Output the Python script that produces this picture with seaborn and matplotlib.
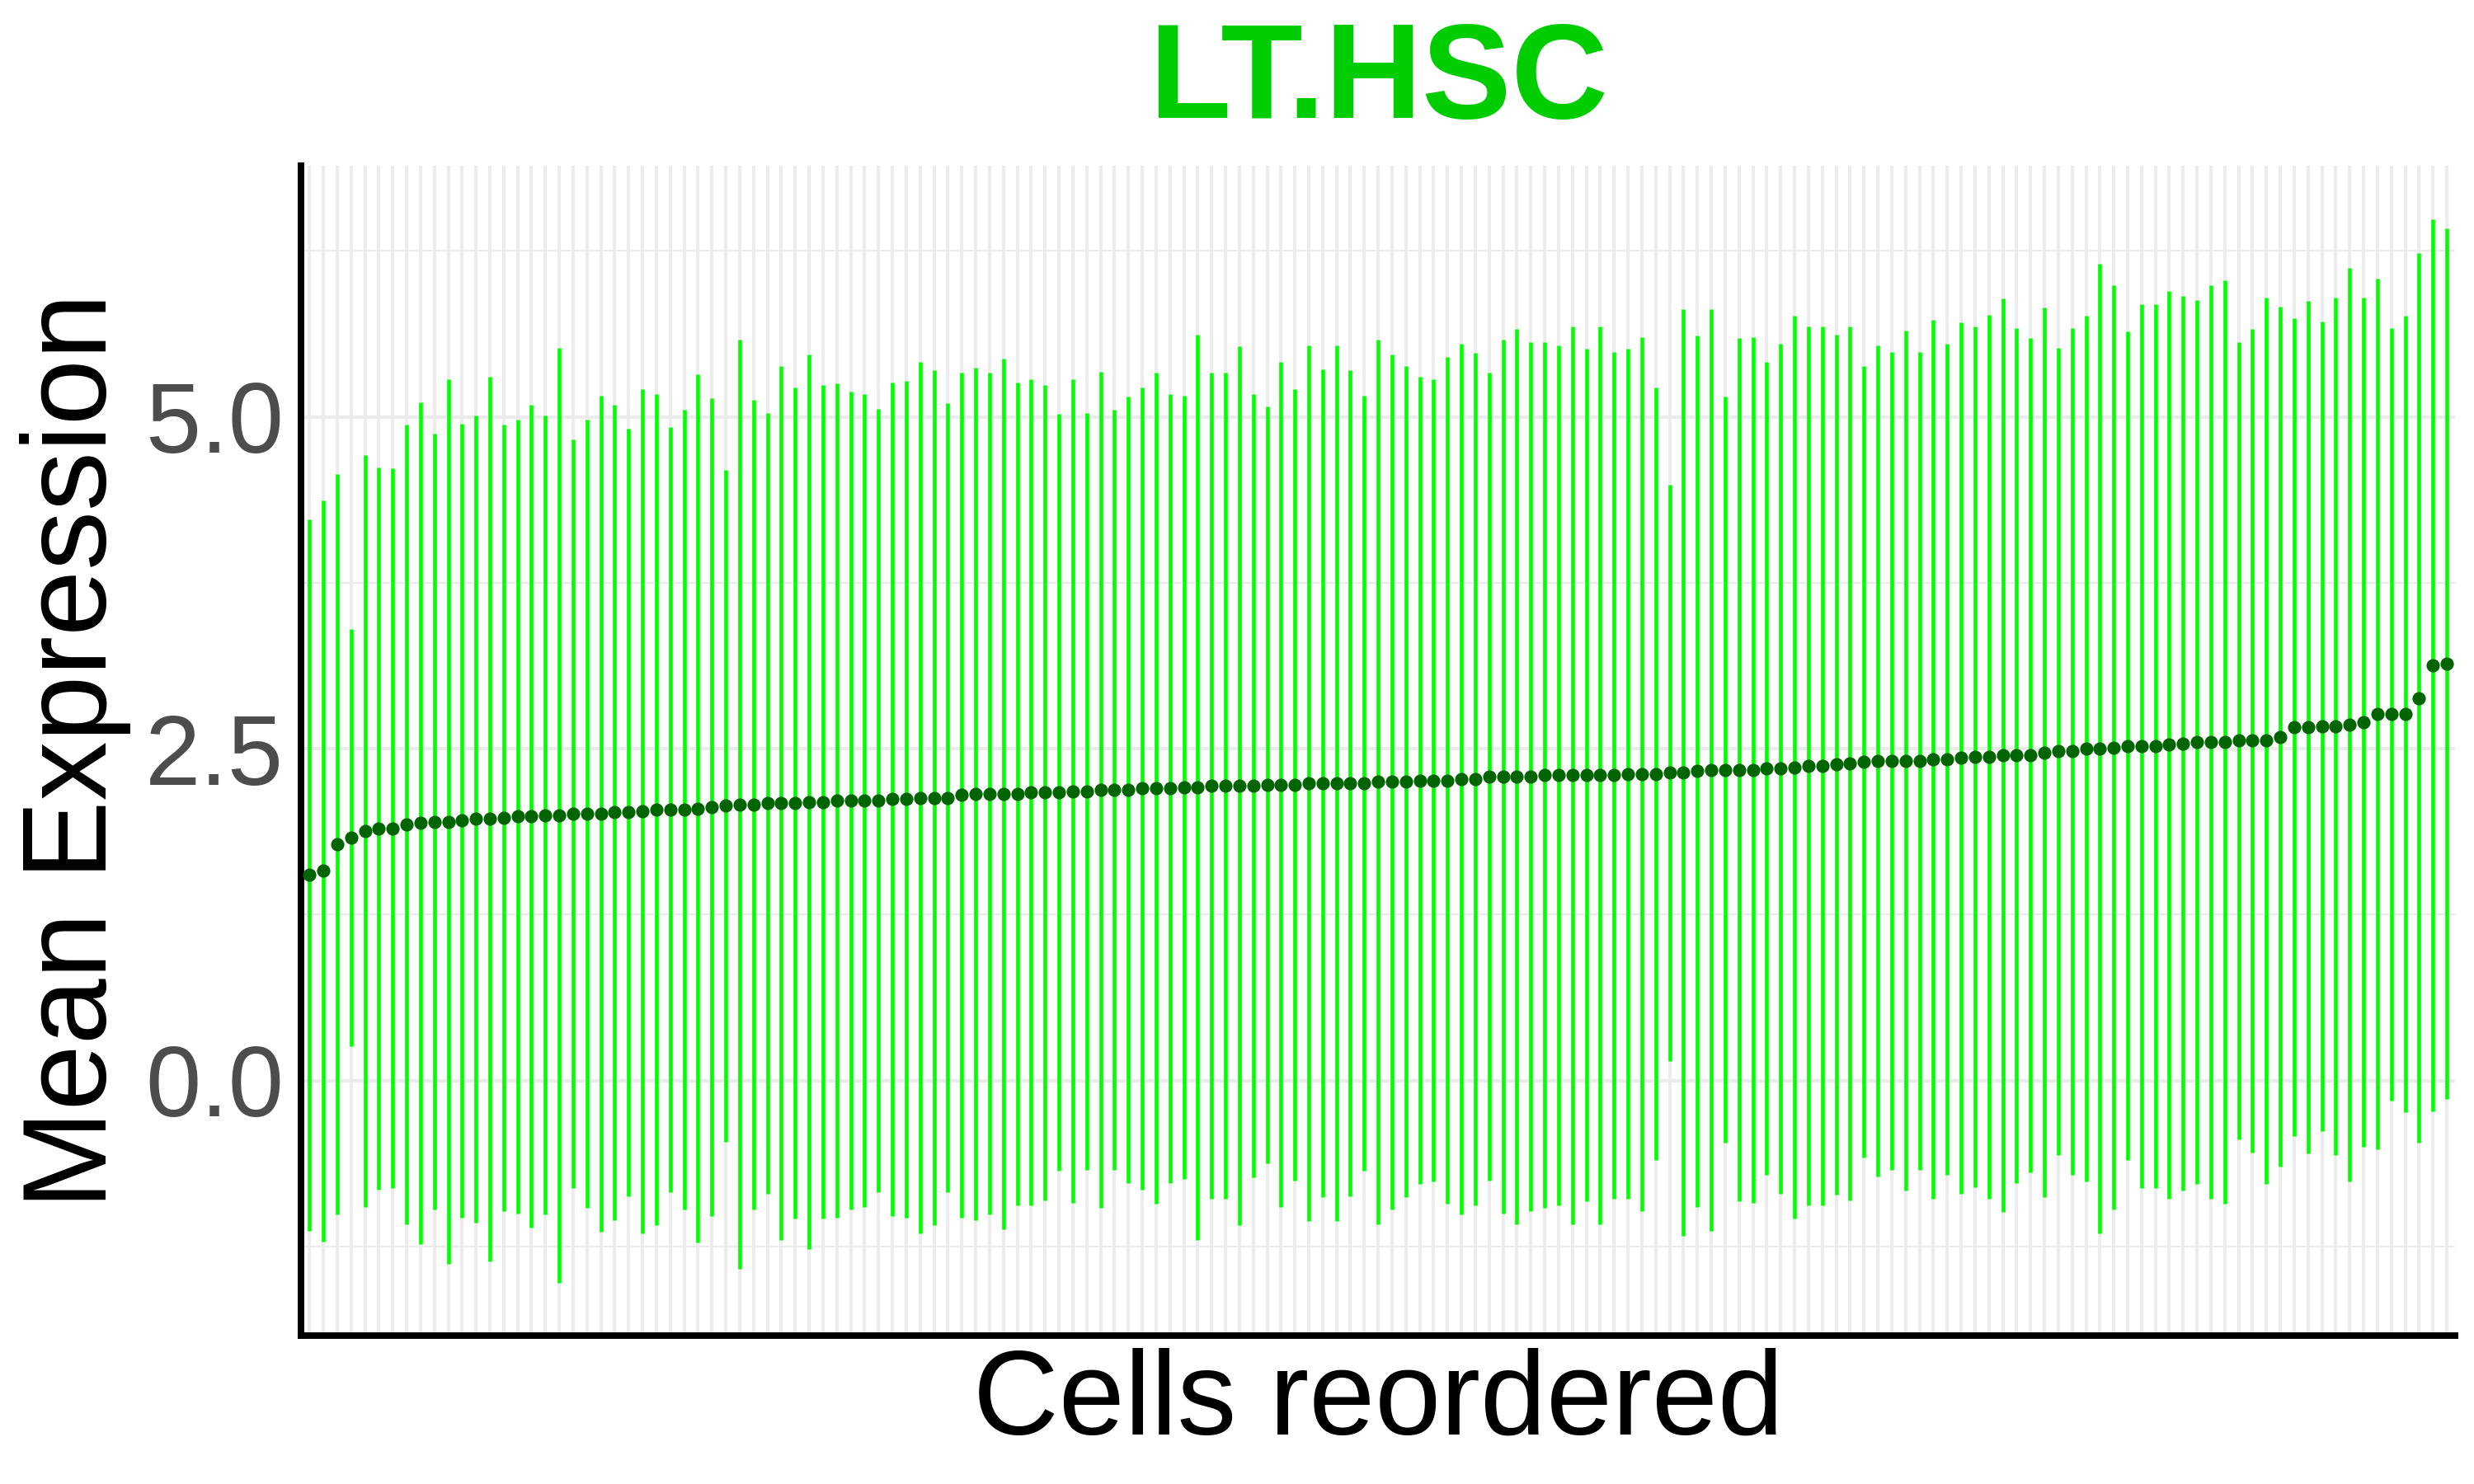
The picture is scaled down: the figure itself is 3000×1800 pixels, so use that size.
import matplotlib
matplotlib.use("Agg")
import matplotlib.pyplot as plt
from matplotlib.ticker import MultipleLocator, FormatStrFormatter
import seaborn as sns
import numpy as np
import pandas as pd

title = "LT.HSC"
x_label = "Cells reordered"
y_label = "Mean Expression"
y_ticks = [0.0, 2.5, 5.0]

# mean expression per cell (cells sorted by mean)
mean_expr = [
    1.55, 1.58, 1.78, 1.83, 1.88, 1.90, 1.90, 1.93, 1.94, 1.95,
    1.95, 1.96, 1.97, 1.97, 1.98, 1.99, 1.99, 2.00, 2.00, 2.01,
    2.01, 2.01, 2.02, 2.02, 2.03, 2.04, 2.04, 2.04, 2.05, 2.06,
    2.07, 2.08, 2.08, 2.09, 2.09, 2.09, 2.10, 2.10, 2.11, 2.11,
    2.11, 2.11, 2.12, 2.12, 2.13, 2.13, 2.13, 2.15, 2.16, 2.16,
    2.16, 2.16, 2.17, 2.17, 2.17, 2.18, 2.18, 2.19, 2.19, 2.19,
    2.20, 2.20, 2.20, 2.21, 2.21, 2.22, 2.22, 2.22, 2.22, 2.23,
    2.23, 2.23, 2.24, 2.24, 2.24, 2.24, 2.24, 2.25, 2.25, 2.25,
    2.26, 2.26, 2.26, 2.27, 2.27, 2.29, 2.29, 2.29, 2.29, 2.30,
    2.30, 2.30, 2.30, 2.30, 2.30, 2.31, 2.31, 2.31, 2.32, 2.32,
    2.33, 2.34, 2.34, 2.34, 2.34, 2.35, 2.35, 2.36, 2.37, 2.37,
    2.38, 2.39, 2.40, 2.41, 2.41, 2.41, 2.41, 2.42, 2.42, 2.43,
    2.44, 2.44, 2.45, 2.45, 2.45, 2.47, 2.48, 2.48, 2.50, 2.50,
    2.51, 2.52, 2.52, 2.52, 2.53, 2.54, 2.55, 2.55, 2.55, 2.56,
    2.56, 2.56, 2.59, 2.66, 2.66, 2.67, 2.67, 2.68, 2.70, 2.76,
    2.76, 2.76, 2.88, 3.13, 3.14,
]

# standard deviation per cell (half length of the error bar)
sd_expr = [
    2.68, 2.79, 2.79, 1.57, 2.83, 2.72, 2.71, 3.01, 3.17, 2.92,
    3.33, 2.99, 3.04, 3.33, 2.96, 2.99, 3.10, 3.01, 3.52, 2.82,
    2.97, 3.15, 3.07, 2.89, 3.18, 3.13, 2.88, 3.01, 3.27, 3.08,
    2.53, 3.50, 3.05, 2.94, 3.29, 3.13, 3.37, 3.14, 3.14, 3.08,
    3.06, 2.95, 3.14, 3.15, 3.28, 3.22, 2.97, 3.18, 3.21, 3.17,
    3.28, 3.10, 3.11, 3.07, 2.85, 3.10, 2.85, 3.15, 2.86, 2.96,
    3.02, 3.13, 2.97, 2.95, 3.41, 3.11, 3.11, 3.31, 2.95, 2.85,
    3.18, 2.98, 3.30, 3.12, 3.30, 3.11, 2.92, 3.33, 3.22, 3.13,
    3.04, 3.02, 3.19, 3.28, 3.21, 3.04, 3.29, 3.37, 3.27, 3.26,
    3.24, 3.38, 3.21, 3.38, 3.19, 3.20, 3.29, 2.91, 2.17, 3.49,
    3.28, 3.47, 2.81, 3.25, 3.26, 3.06, 3.20, 3.40, 3.31, 3.31,
    3.24, 3.29, 2.98, 3.13, 3.08, 3.24, 3.08, 3.31, 3.13, 3.28,
    3.24, 3.33, 3.44, 3.22, 3.14, 3.35, 3.04, 3.19, 3.26, 3.65,
    3.48, 3.12, 3.33, 3.33, 3.42, 3.37, 3.33, 3.44, 3.48, 3.00,
    3.10, 3.34, 3.24, 3.08, 3.21, 3.05, 3.23, 3.44, 3.20, 3.28,
    2.91, 3.00, 3.35, 3.36, 3.28,
]

df = pd.DataFrame({
    "cell": np.arange(1, len(mean_expr) + 1),
    "mean": mean_expr,
    "sd": sd_expr,
})
df["lo"] = df["mean"] - df["sd"]
df["hi"] = df["mean"] + df["sd"]

sns.set_theme(style="white")
plt.rcParams["font.family"] = ["Liberation Sans", "DejaVu Sans"]

fig = plt.figure(figsize=(10, 6), dpi=300)
ax = fig.add_axes([0.1217, 0.1, 0.8707, 0.7883])

# error bars then the means on top
ax.vlines(df["cell"], df["lo"], df["hi"], colors="#00FF00", linewidth=1.1, zorder=2)
sns.scatterplot(data=df, x="cell", y="mean", color="#006400", s=15,
                linewidth=0, ax=ax, zorder=3)

# one vertical grid line per cell, no x tick labels
ax.set_xticks(df["cell"])
ax.set_xticklabels([])
ax.tick_params(axis="x", length=0)
ax.grid(axis="x", color="#EBEBEB", linewidth=0.9)

ax.set_yticks(y_ticks)
ax.yaxis.set_major_formatter(FormatStrFormatter("%.1f"))
ax.yaxis.set_minor_locator(MultipleLocator(1.25))
ax.grid(axis="y", which="major", color="#EBEBEB", linewidth=1.0)
ax.grid(axis="y", which="minor", color="#EBEBEB", linewidth=0.55)
ax.tick_params(axis="y", which="both", length=0, labelsize=29,
               labelcolor="#4D4D4D", pad=5)
ax.set_axisbelow(True)

span = df["hi"].max() - df["lo"].min()
ax.set_ylim(df["lo"].min() - 0.05 * span, df["hi"].max() + 0.05 * span)
ax.set_xlim(0.4, len(df) + 0.6)

sns.despine(ax=ax)
for side in ["left", "bottom"]:
    ax.spines[side].set_color("black")
    ax.spines[side].set_linewidth(1.9)

ax.set_title(title, fontsize=39, fontweight="bold", color="#00CD00", pad=14)
ax.set_ylabel(y_label, fontsize=34.5, color="black", labelpad=4)
ax.set_xlabel(x_label, fontsize=34.5, color="black", labelpad=0)

fig.savefig("out.png", dpi=300)
plt.close(fig)
